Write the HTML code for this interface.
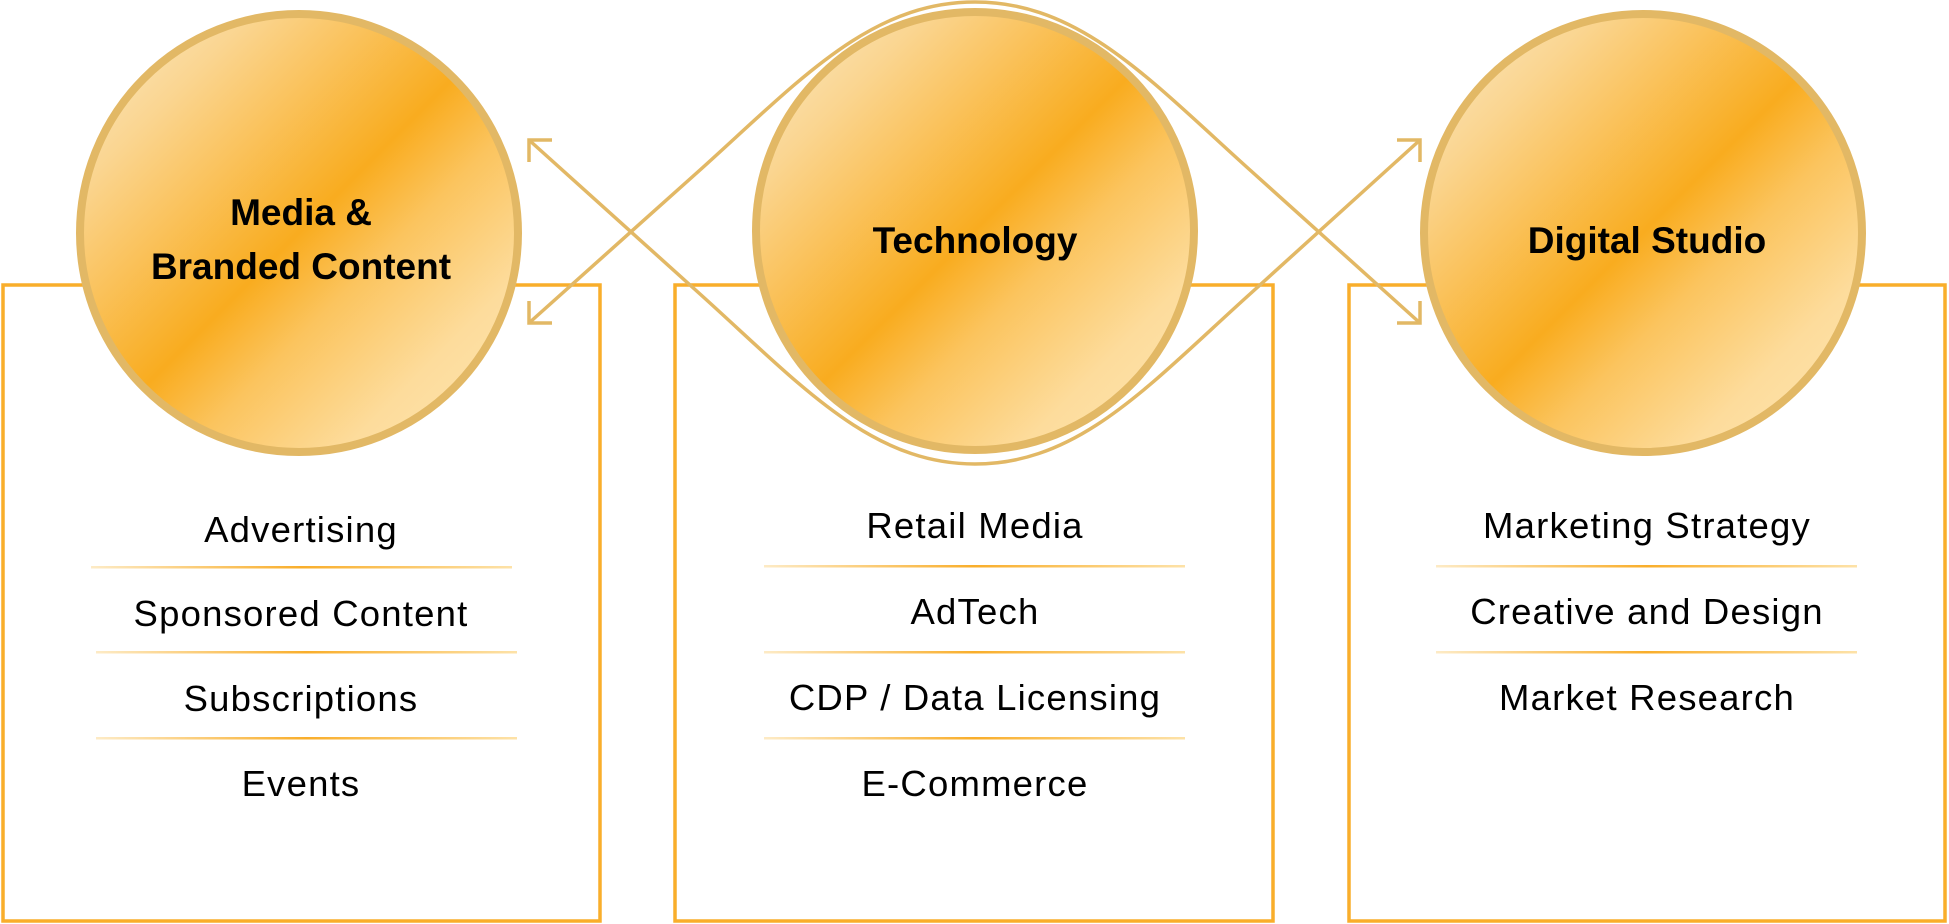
<!DOCTYPE html>
<html><head><meta charset="utf-8"><style>
html,body{margin:0;padding:0;background:#fff;}
svg{display:block;}
text{font-family:"Liberation Sans",Arial,sans-serif;fill:#000;}
.t{font-size:36.5px;letter-spacing:1.2px;text-anchor:middle;}
.h{font-size:37px;font-weight:bold;text-anchor:middle;}
</style></head><body>
<svg width="1949" height="924" viewBox="0 0 1949 924" xmlns="http://www.w3.org/2000/svg">
<defs>
<linearGradient id="g" x1="0" y1="0" x2="1" y2="1">
<stop offset="0" stop-color="#FCEBCB"/>
<stop offset="0.2" stop-color="#FAD590"/>
<stop offset="0.5" stop-color="#F9AC1F"/>
<stop offset="0.62" stop-color="#FBC45E"/>
<stop offset="0.8" stop-color="#FDDC9C"/>
<stop offset="1" stop-color="#FEE6B4"/>
</linearGradient>
<linearGradient id="s" x1="0" y1="0" x2="1" y2="0">
<stop offset="0" stop-color="#FDEBC6"/>
<stop offset="0.5" stop-color="#F9AE2B"/>
<stop offset="1" stop-color="#FDE2A8"/>
</linearGradient>
</defs>
<g fill="none" stroke="#F9AE2B" stroke-width="3.5">
<rect x="3" y="285" width="597" height="636"/>
<rect x="675" y="285" width="598" height="636"/>
<rect x="1349" y="285" width="596" height="636"/>
</g>
<g fill="none" stroke="#E2B865" stroke-width="3.5">
<path d="M529,323 L700,170 C800,80 870,2 975,2 C1080,2 1150,80 1250,170 L1420,323"/>
<path d="M529,140 L700,294 C800,384 870,464 975,464 C1080,464 1150,384 1250,294 L1420,140"/>
<path d="M552,140 L529,140 L529,162"/>
<path d="M552,323 L529,323 L529,301"/>
<path d="M1397,140 L1420,140 L1420,162"/>
<path d="M1397,323 L1420,323 L1420,301"/>
</g>
<g stroke="#E2B865" stroke-width="8" fill="url(#g)">
<circle cx="299" cy="233" r="219"/>
<circle cx="975" cy="231" r="219"/>
<circle cx="1643" cy="233" r="219"/>
</g>
<text class="h" x="301" y="225">Media &amp;</text>
<text class="h" x="301" y="279">Branded Content</text>
<text class="h" x="975" y="253">Technology</text>
<text class="h" x="1647" y="253">Digital Studio</text>
<g fill="url(#s)">
<rect x="91" y="566" width="421" height="2.5"/>
<rect x="96" y="651" width="421" height="2.5"/>
<rect x="96" y="737" width="421" height="2.5"/>
<rect x="764" y="565" width="421" height="2.5"/>
<rect x="764" y="651" width="421" height="2.5"/>
<rect x="764" y="737" width="421" height="2.5"/>
<rect x="1436" y="565" width="421" height="2.5"/>
<rect x="1436" y="651" width="421" height="2.5"/>
</g>
<text class="t" x="301" y="542">Advertising</text>
<text class="t" x="301" y="626">Sponsored Content</text>
<text class="t" x="301" y="711">Subscriptions</text>
<text class="t" x="301" y="796">Events</text>
<text class="t" x="975" y="538">Retail Media</text>
<text class="t" x="975" y="624">AdTech</text>
<text class="t" x="975" y="710">CDP / Data Licensing</text>
<text class="t" x="975" y="796">E-Commerce</text>
<text class="t" x="1647" y="538">Marketing Strategy</text>
<text class="t" x="1647" y="624">Creative and Design</text>
<text class="t" x="1647" y="710">Market Research</text>
</svg>
</body></html>
